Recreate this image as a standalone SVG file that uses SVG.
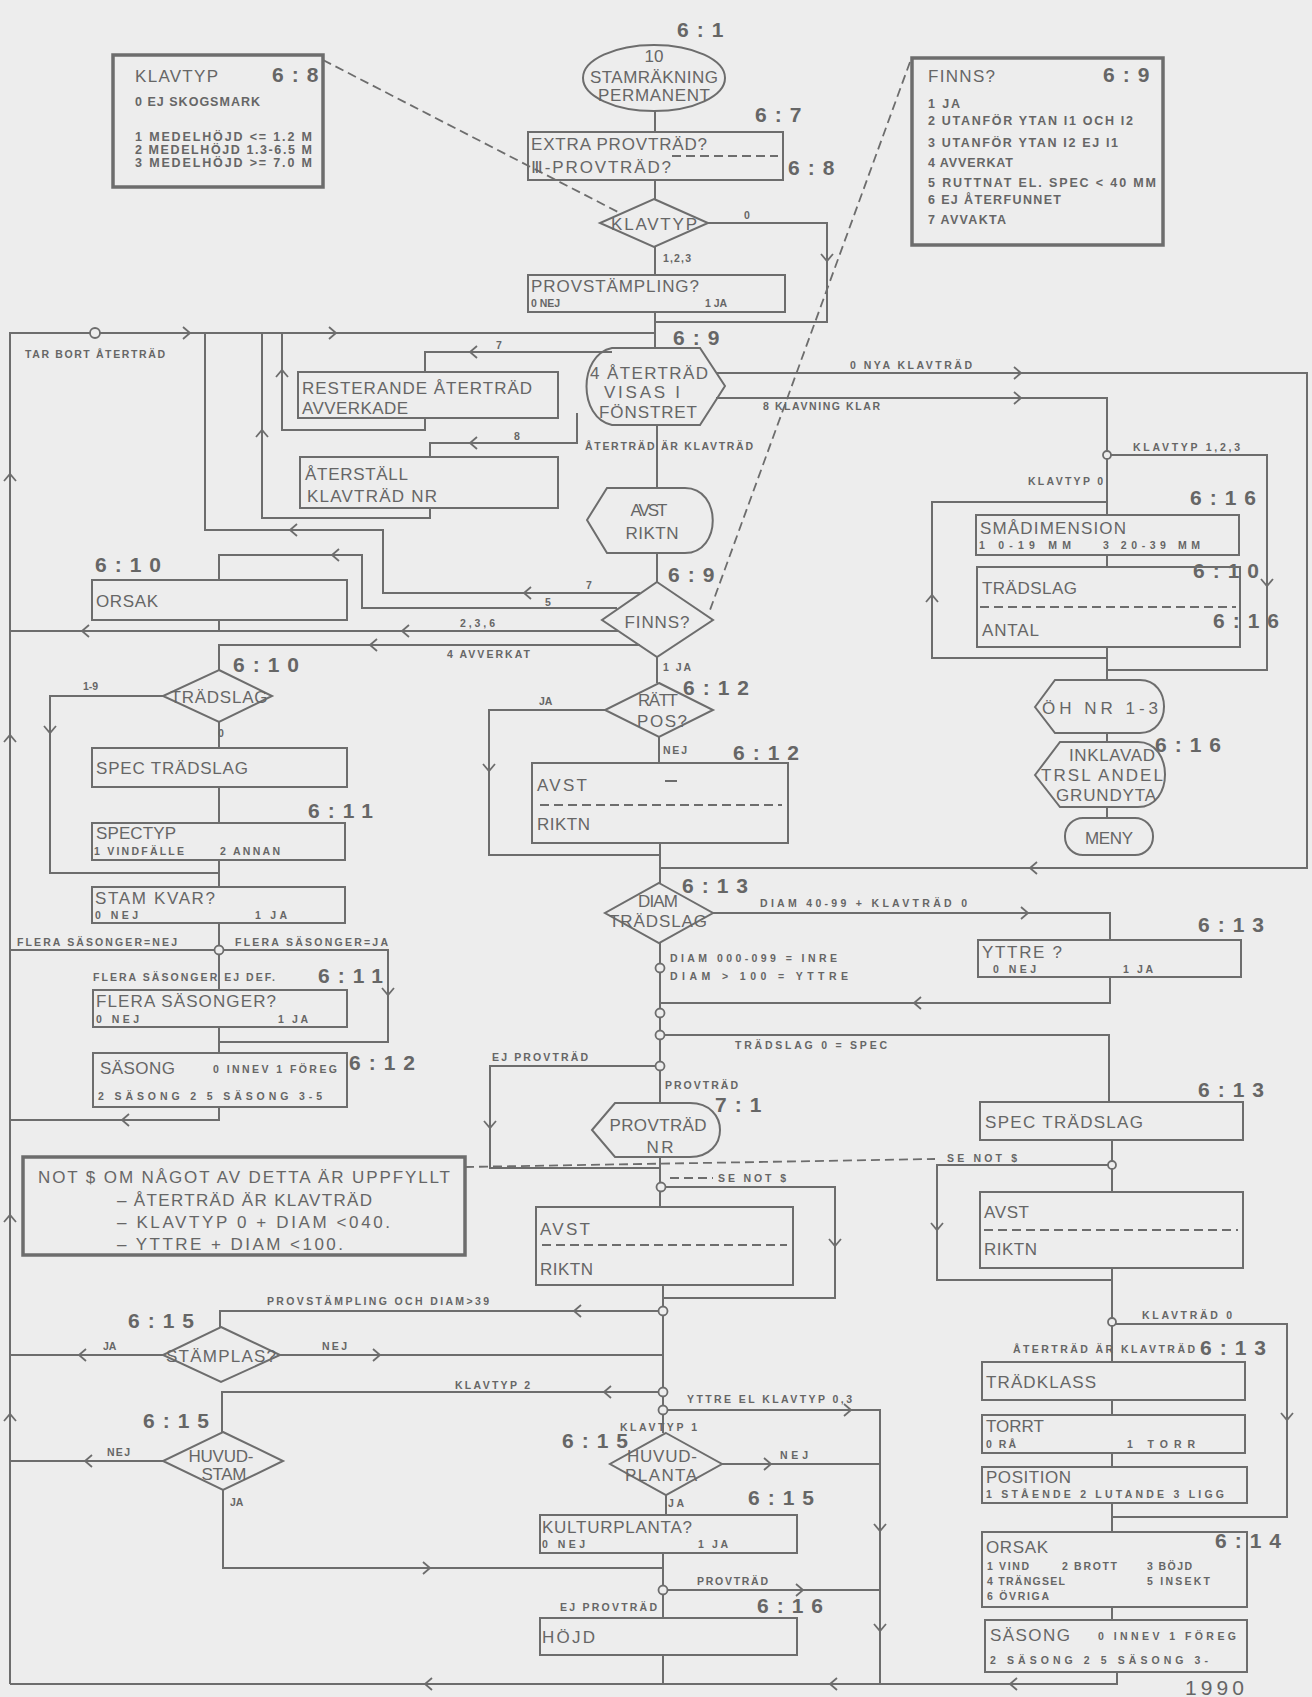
<svg xmlns="http://www.w3.org/2000/svg" width="1312" height="1697" viewBox="0 0 1312 1697">
<style>
.l{fill:none;stroke:#6d6d6d;stroke-width:2}
.b{fill:none;stroke:#6d6d6d;stroke-width:2}
.k{fill:none;stroke:#6d6d6d;stroke-width:3.5}
.d{fill:none;stroke:#6d6d6d;stroke-width:1.8;stroke-dasharray:9 5}
.c{fill:#ededed;stroke:#6d6d6d;stroke-width:1.8}
text{font-family:"Liberation Sans",Arial,sans-serif;fill:#666666}
.t{font-size:17px}
.o{font-size:12.5px;font-weight:bold}
.s{font-size:10.5px;font-weight:bold}
.n{font-size:21px;font-weight:bold;letter-spacing:8px}
.m{text-anchor:middle}
</style>
<defs>
<path id="a" d="M-4,-6 L3,0 L-4,6" fill="none" stroke="#6d6d6d" stroke-width="1.8"/>
</defs>
<rect width="1312" height="1697" fill="#ededed"/>

<g id="connectors">
<path class="l" d="M655,111V132"/>
<path class="l" d="M655,180V199"/>
<path class="l" d="M655,247V275"/>
<path class="l" d="M708,223H827V322H655"/>
<path class="l" d="M655,312V348"/>
<path class="l" d="M10,1684V333H655"/>
<path class="l" d="M612,352H425V372"/>
<path class="l" d="M425,418V430H282V333"/>
<path class="l" d="M577,413V443H430V457"/>
<path class="l" d="M430,508V518H262V333"/>
<path class="l" d="M657,425V488"/>
<path class="l" d="M657,553V582"/>
<path class="l" d="M640,593H383V530H205V333"/>
<path class="l" d="M617,608H362V555H219V580"/>
<path class="l" d="M219,620V631"/>
<path class="l" d="M618,631H10"/>
<path class="l" d="M640,645H219V670"/>
<path class="l" d="M657,657V683"/>
<path class="l" d="M605,710H489V855H660"/>
<path class="l" d="M659,737V763"/>
<path class="l" d="M660,843V883"/>
<path class="l" d="M716,373H1307V868H660"/>
<path class="l" d="M716,398H1107V515"/>
<path class="l" d="M1107,455H1267V670H1107"/>
<path class="l" d="M1107,502H932V658H1107"/>
<path class="l" d="M1107,555V567M1107,647V680M1107,733V742M1107,807V818"/>
<path class="l" d="M713,913H1110V940"/>
<path class="l" d="M1110,977V1003H660"/>
<path class="l" d="M660,943V1103"/>
<path class="l" d="M660,1035H1109V1102"/>
<path class="l" d="M660,1066H490V1168H660"/>
<path class="l" d="M660,1157V1207"/>
<path class="l" d="M660,1187H835V1298H663"/>
<path class="l" d="M663,1285V1433"/>
<path class="l" d="M663,1311H220V1327"/>
<path class="l" d="M163,1355H10"/>
<path class="l" d="M280,1355H663"/>
<path class="l" d="M663,1392H222V1432"/>
<path class="l" d="M163,1461H10"/>
<path class="l" d="M223,1490V1568H663"/>
<path class="l" d="M663,1410H880V1684"/>
<path class="l" d="M722,1464H880"/>
<path class="l" d="M666,1495V1515"/>
<path class="l" d="M663,1553V1618"/>
<path class="l" d="M663,1590H880"/>
<path class="l" d="M663,1655V1684"/>
<path class="l" d="M1117,1672V1684H10"/>
<path class="l" d="M1112,1140V1192"/>
<path class="l" d="M1112,1165H937V1280H1112"/>
<path class="l" d="M1112,1268V1362"/>
<path class="l" d="M1112,1324H1287V1517H1112"/>
<path class="l" d="M1112,1400V1415M1112,1453V1467M1112,1503V1532M1112,1607V1620"/>
<path class="l" d="M163,696H50V873H219"/>
<path class="l" d="M219,722V748M219,787V823M219,860V887M219,923V990"/>
<path class="l" d="M219,950H10"/>
<path class="l" d="M219,950H388V1042H219"/>
<path class="l" d="M219,1027V1053"/>
<path class="l" d="M219,1107V1120H10"/>
<path class="d" d="M323,60L618,212"/>
<path class="d" d="M910,62L710,610"/>
<path class="d" d="M465,1167L935,1159"/>
<path class="d" d="M670,1178H713"/>
<circle class="c" cx="95" cy="333" r="5"/>
<circle class="c" cx="219" cy="950" r="4.5"/>
<circle class="c" cx="660" cy="968" r="4.5"/>
<circle class="c" cx="660" cy="1013" r="4.5"/>
<circle class="c" cx="660" cy="1035" r="4.5"/>
<circle class="c" cx="660" cy="1066" r="4.5"/>
<circle class="c" cx="661" cy="1187" r="4.5"/>
<circle class="c" cx="663" cy="1311" r="4.5"/>
<circle class="c" cx="663" cy="1392" r="4.5"/>
<circle class="c" cx="663" cy="1410" r="4.5"/>
<circle class="c" cx="663" cy="1590" r="4.5"/>
<circle class="c" cx="1107" cy="455" r="4"/>
<circle class="c" cx="1112" cy="1165" r="4"/>
<circle class="c" cx="1112" cy="1322" r="4"/>
<use href="#a" transform="translate(187,333)"/>
<use href="#a" transform="translate(333,333)"/>
<use href="#a" transform="translate(473,352) rotate(180)"/>
<use href="#a" transform="translate(282,373) rotate(-90)"/>
<use href="#a" transform="translate(262,433) rotate(-90)"/>
<use href="#a" transform="translate(473,443) rotate(180)"/>
<use href="#a" transform="translate(827,258) rotate(90)"/>
<use href="#a" transform="translate(293,530) rotate(180)"/>
<use href="#a" transform="translate(335,555) rotate(180)"/>
<use href="#a" transform="translate(527,593) rotate(180)"/>
<use href="#a" transform="translate(85,631) rotate(180)"/>
<use href="#a" transform="translate(405,631) rotate(180)"/>
<use href="#a" transform="translate(373,645) rotate(180)"/>
<use href="#a" transform="translate(10,477) rotate(-90)"/>
<use href="#a" transform="translate(10,738) rotate(-90)"/>
<use href="#a" transform="translate(10,1218) rotate(-90)"/>
<use href="#a" transform="translate(10,1417) rotate(-90)"/>
<use href="#a" transform="translate(50,730) rotate(90)"/>
<use href="#a" transform="translate(388,992) rotate(90)"/>
<use href="#a" transform="translate(125,1120) rotate(180)"/>
<use href="#a" transform="translate(489,768) rotate(90)"/>
<use href="#a" transform="translate(1018,373)"/>
<use href="#a" transform="translate(1018,398)"/>
<use href="#a" transform="translate(1033,868) rotate(180)"/>
<use href="#a" transform="translate(1267,583) rotate(90)"/>
<use href="#a" transform="translate(932,598) rotate(-90)"/>
<use href="#a" transform="translate(1025,913)"/>
<use href="#a" transform="translate(917,1003) rotate(180)"/>
<use href="#a" transform="translate(490,1125) rotate(90)"/>
<use href="#a" transform="translate(835,1243) rotate(90)"/>
<use href="#a" transform="translate(937,1227) rotate(90)"/>
<use href="#a" transform="translate(1287,1417) rotate(90)"/>
<use href="#a" transform="translate(577,1311) rotate(180)"/>
<use href="#a" transform="translate(82,1355) rotate(180)"/>
<use href="#a" transform="translate(377,1355)"/>
<use href="#a" transform="translate(607,1392) rotate(180)"/>
<use href="#a" transform="translate(88,1461) rotate(180)"/>
<use href="#a" transform="translate(427,1568)"/>
<use href="#a" transform="translate(848,1410)"/>
<use href="#a" transform="translate(768,1464)"/>
<use href="#a" transform="translate(800,1590)"/>
<use href="#a" transform="translate(880,1528) rotate(90)"/>
<use href="#a" transform="translate(880,1628) rotate(90)"/>
<use href="#a" transform="translate(428,1684) rotate(180)"/>
<use href="#a" transform="translate(833,1684) rotate(180)"/>
<use href="#a" transform="translate(1013,1684) rotate(180)"/>
<text class="s" x="744" y="219">0</text>
<text class="s" x="663" y="262" textLength="28">1,2,3</text>
<text class="s" x="25" y="358" textLength="140">TAR BORT ÅTERTRÄD</text>
<text class="s" x="496" y="349">7</text>
<text class="s" x="514" y="440">8</text>
<text class="s" x="850" y="369" textLength="122">0 NYA KLAVTRÄD</text>
<text class="s" x="763" y="410" textLength="117">8 KLAVNING KLAR</text>
<text class="s" x="585" y="450" textLength="168">ÅTERTRÄD ÄR KLAVTRÄD</text>
<text class="s" x="586" y="589">7</text>
<text class="s" x="545" y="606">5</text>
<text class="s" x="460" y="627" textLength="35">2,3,6</text>
<text class="s" x="447" y="658" textLength="83">4 AVVERKAT</text>
<text class="s" x="663" y="671" textLength="28">1 JA</text>
<text class="s" x="539" y="705">JA</text>
<text class="s" x="663" y="754" textLength="24">NEJ</text>
<text class="s" x="83" y="690">1-9</text>
<text class="s" x="218" y="737">0</text>
<text class="s" x="17" y="946" textLength="160">FLERA SÄSONGER=NEJ</text>
<text class="s" x="235" y="946" textLength="153">FLERA SÄSONGER=JA</text>
<text class="s" x="93" y="981" textLength="182">FLERA SÄSONGER EJ DEF.</text>
<text class="s" x="1133" y="451" textLength="107">KLAVTYP 1,2,3</text>
<text class="s" x="1028" y="485" textLength="75">KLAVTYP 0</text>
<text class="s" x="760" y="907" textLength="207">DIAM 40-99 + KLAVTRÄD 0</text>
<text class="s" x="670" y="962" textLength="167">DIAM 000-099 = INRE</text>
<text class="s" x="670" y="980" textLength="178">DIAM &gt; 100     = YTTRE</text>
<text class="s" x="735" y="1049" textLength="152">TRÄDSLAG 0 = SPEC</text>
<text class="s" x="492" y="1061" textLength="96">EJ PROVTRÄD</text>
<text class="s" x="665" y="1089" textLength="73">PROVTRÄD</text>
<text class="s" x="718" y="1182" textLength="68">SE NOT $</text>
<text class="s" x="947" y="1162" textLength="70">SE NOT $</text>
<text class="s" x="1142" y="1319" textLength="90">KLAVTRÄD 0</text>
<text class="s" x="1013" y="1353" textLength="182">ÅTERTRÄD ÄR KLAVTRÄD</text>
<text class="s" x="267" y="1305" textLength="222">PROVSTÄMPLING OCH DIAM&gt;39</text>
<text class="s" x="103" y="1350">JA</text>
<text class="s" x="322" y="1350" textLength="25">NEJ</text>
<text class="s" x="455" y="1389" textLength="75">KLAVTYP 2</text>
<text class="s" x="107" y="1456" textLength="23">NEJ</text>
<text class="s" x="230" y="1506">JA</text>
<text class="s" x="687" y="1403" textLength="165">YTTRE EL KLAVTYP 0,3</text>
<text class="s" x="620" y="1431" textLength="77">KLAVTYP 1</text>
<text class="s" x="780" y="1459" textLength="28">NEJ</text>
<text class="s" x="668" y="1507" textLength="16">JA</text>
<text class="s" x="697" y="1585" textLength="71">PROVTRÄD</text>
<text class="s" x="560" y="1611" textLength="97">EJ PROVTRÄD</text>
</g>

<g id="n-start">
<text class="n" x="677" y="37">6:1</text>
<ellipse class="b" cx="654" cy="78" rx="71" ry="33"/>
<text class="t m" x="654" y="62">10</text>
<text class="t m" x="654" y="83" textLength="128">STAMRÄKNING</text>
<text class="t m" x="654" y="101" textLength="112">PERMANENT</text>
</g>

<g id="n-extra">
<text class="n" x="755" y="122">6:7</text>
<rect class="b" x="528" y="132" width="255" height="48"/>
<path class="d" d="M672,156H778"/>
<text class="t" x="531" y="150" textLength="176">EXTRA PROVTRÄD?</text>
<text class="t" x="531" y="173" textLength="140">Ⅲ-PROVTRÄD?</text>
<text class="n" x="788" y="175">6:8</text>
</g>

<g id="n-klavtyp">
<path class="b" d="M654,199L708,223L654,247L600,223Z"/>
<text class="t m" x="654" y="230" textLength="86">KLAVTYP</text>
</g>

<g id="n-provst">
<rect class="b" x="528" y="275" width="257" height="37"/>
<text class="t" x="531" y="292" textLength="168">PROVSTÄMPLING?</text>
<text class="s" x="531" y="307">0 NEJ</text>
<text class="s" x="705" y="307">1 JA</text>
</g>

<g id="n-klavtyp-info">
<rect class="k" x="113" y="55" width="210" height="132"/>
<text class="t" x="135" y="82" textLength="83">KLAVTYP</text>
<text class="n" x="272" y="82">6:8</text>
<text class="o" x="135" y="106" textLength="125">0 EJ SKOGSMARK</text>
<text class="o" x="135" y="141" textLength="177">1 MEDELHÖJD &lt;= 1.2 M</text>
<text class="o" x="135" y="154" textLength="177">2 MEDELHÖJD 1.3-6.5 M</text>
<text class="o" x="135" y="167" textLength="177">3 MEDELHÖJD &gt;= 7.0 M</text>
</g>

<g id="n-finns-info">
<rect class="k" x="912" y="58" width="251" height="187"/>
<text class="t" x="928" y="82" textLength="67">FINNS?</text>
<text class="n" x="1103" y="82">6:9</text>
<text class="o" x="928" y="108" textLength="32">1 JA</text>
<text class="o" x="928" y="125" textLength="205">2 UTANFÖR YTAN I1 OCH I2</text>
<text class="o" x="928" y="147" textLength="190">3 UTANFÖR YTAN I2 EJ I1</text>
<text class="o" x="928" y="167" textLength="85">4 AVVERKAT</text>
<text class="o" x="928" y="187" textLength="228">5 RUTTNAT EL. SPEC &lt; 40 MM</text>
<text class="o" x="928" y="204" textLength="133">6 EJ ÅTERFUNNET</text>
<text class="o" x="928" y="224" textLength="78">7 AVVAKTA</text>
</g>

<g id="n-atertrad">
<text class="n" x="673" y="345">6:9</text>
<path class="b" d="M612,348L700,348L725,386L700,425L612,425C578,418 578,355 612,348Z"/>
<text class="t m" x="649" y="379" textLength="118">4 ÅTERTRÄD</text>
<text class="t m" x="642" y="398" textLength="76">VISAS I</text>
<text class="t m" x="648" y="418" textLength="98">FÖNSTRET</text>
</g>

<g id="n-resterande">
<rect class="b" x="298" y="372" width="260" height="46"/>
<text class="t" x="302" y="394" textLength="230">RESTERANDE ÅTERTRÄD</text>
<text class="t" x="302" y="414" textLength="106">AVVERKADE</text>
</g>

<g id="n-aterstall">
<rect class="b" x="300" y="457" width="258" height="51"/>
<text class="t" x="305" y="480" textLength="103">ÅTERSTÄLL</text>
<text class="t" x="307" y="502" textLength="130">KLAVTRÄD NR</text>
</g>

<g id="n-avst1">
<path class="b" d="M587,520L607,488L685,488C722,488 722,553 685,553L607,553Z"/>
<text class="t m" x="649" y="516" textLength="37">AVST</text>
<text class="t m" x="652" y="539" textLength="53">RIKTN</text>
</g>

<g id="n-finns">
<text class="n" x="668" y="582">6:9</text>
<path class="b" d="M657,582L713,620L657,657L602,620Z"/>
<text class="t m" x="657" y="628" textLength="65">FINNS?</text>
</g>

<g id="n-orsak1">
<text class="n" x="95" y="572">6:10</text>
<rect class="b" x="92" y="580" width="255" height="40"/>
<text class="t" x="96" y="607" textLength="62">ORSAK</text>
</g>

<g id="n-ratt">
<text class="n" x="683" y="695">6:12</text>
<path class="b" d="M659,683L713,710L659,737L605,710Z"/>
<text class="t m" x="658" y="706" textLength="40">RÄTT</text>
<text class="t m" x="662" y="727" textLength="50">POS?</text>
</g>

<g id="n-avst2">
<text class="n" x="733" y="760">6:12</text>
<rect class="b" x="532" y="763" width="256" height="80"/>
<path class="d" d="M540,805H782"/>
<path class="l" d="M665,781H677"/>
<text class="t" x="537" y="791" textLength="50">AVST</text>
<text class="t" x="537" y="830" textLength="53">RIKTN</text>
</g>

<g id="n-tradslag1">
<text class="n" x="233" y="672">6:10</text>
<path class="b" d="M219,670L272,696L219,722L163,696Z"/>
<text class="t m" x="219" y="703" textLength="97">TRÄDSLAG</text>
</g>

<g id="n-spec1">
<rect class="b" x="92" y="748" width="255" height="39"/>
<text class="t" x="96" y="774" textLength="152">SPEC TRÄDSLAG</text>
</g>

<g id="n-spectyp">
<text class="n" x="308" y="818">6:11</text>
<rect class="b" x="92" y="823" width="253" height="37"/>
<text class="t" x="96" y="839" textLength="80">SPECTYP</text>
<text class="s" x="94" y="855" textLength="90">1 VINDFÄLLE</text>
<text class="s" x="220" y="855" textLength="60">2 ANNAN</text>
</g>

<g id="n-stamkvar">
<rect class="b" x="92" y="887" width="253" height="36"/>
<text class="t" x="95" y="904" textLength="120">STAM KVAR?</text>
<text class="s" x="95" y="919" textLength="43">0 NEJ</text>
<text class="s" x="255" y="919" textLength="32">1 JA</text>
</g>

<g id="n-flera">
<text class="n" x="318" y="983">6:11</text>
<rect class="b" x="93" y="990" width="254" height="37"/>
<text class="t" x="96" y="1007" textLength="180">FLERA SÄSONGER?</text>
<text class="s" x="96" y="1023" textLength="43">0 NEJ</text>
<text class="s" x="278" y="1023" textLength="30">1 JA</text>
</g>

<g id="n-sasong1">
<text class="n" x="349" y="1070">6:12</text>
<rect class="b" x="93" y="1053" width="254" height="54"/>
<text class="t" x="100" y="1074" textLength="75">SÄSONG</text>
<text class="s" x="213" y="1073" textLength="124">0 INNEV  1 FÖREG</text>
<text class="s" x="98" y="1100" textLength="224">2 SÄSONG 2   5 SÄSONG 3-5</text>
</g>

<g id="n-not">
<rect class="k" x="23" y="1157" width="442" height="98"/>
<text class="t" x="38" y="1183" textLength="412">NOT $ OM NÅGOT AV DETTA ÄR UPPFYLLT</text>
<text class="t" x="117" y="1206" textLength="255">– ÅTERTRÄD ÄR KLAVTRÄD</text>
<text class="t" x="117" y="1228" textLength="273">– KLAVTYP 0 + DIAM &lt;040.</text>
<text class="t" x="117" y="1250" textLength="226">– YTTRE + DIAM &lt;100.</text>
</g>

<g id="n-smadim">
<text class="n" x="1190" y="505">6:16</text>
<rect class="b" x="976" y="515" width="263" height="40"/>
<text class="t" x="980" y="534" textLength="146">SMÅDIMENSION</text>
<text class="s" x="979" y="549" textLength="92">1 0-19 MM</text>
<text class="s" x="1103" y="549" textLength="97">3 20-39 MM</text>
</g>

<g id="n-tradslag2">
<text class="n" x="1193" y="578">6:10</text>
<rect class="b" x="977" y="567" width="263" height="80"/>
<path class="d" d="M980,607H1236"/>
<text class="t" x="982" y="594" textLength="95">TRÄDSLAG</text>
<text class="t" x="982" y="636" textLength="57">ANTAL</text>
<text class="n" x="1213" y="628">6:16</text>
</g>

<g id="n-ohnr">
<path class="b" d="M1035,707L1055,680L1140,680C1172,680 1172,733 1140,733L1055,733Z"/>
<text class="t m" x="1100" y="714" textLength="116">ÖH NR 1-3</text>
</g>

<g id="n-inklavad">
<text class="n" x="1155" y="752">6:16</text>
<path class="b" d="M1035,775L1060,742L1138,742C1174,742 1174,807 1138,807L1060,807Z"/>
<text class="t m" x="1112" y="761" textLength="86">INKLAVAD</text>
<text class="t m" x="1102" y="781" textLength="122">TRSL ANDEL</text>
<text class="t m" x="1106" y="801" textLength="100">GRUNDYTA</text>
</g>

<g id="n-meny">
<rect class="b" x="1065" y="818" width="88" height="37" rx="18"/>
<text class="t m" x="1109" y="844" textLength="48">MENY</text>
</g>

<g id="n-diam">
<text class="n" x="682" y="893">6:13</text>
<path class="b" d="M659,883L713,913L659,943L605,913Z"/>
<text class="t m" x="658" y="907" textLength="40">DIAM</text>
<text class="t m" x="658" y="927" textLength="98">TRÄDSLAG</text>
</g>

<g id="n-yttre">
<text class="n" x="1198" y="932">6:13</text>
<rect class="b" x="978" y="940" width="263" height="37"/>
<text class="t" x="982" y="958" textLength="80">YTTRE ?</text>
<text class="s" x="993" y="973" textLength="43">0 NEJ</text>
<text class="s" x="1123" y="973" textLength="30">1 JA</text>
</g>

<g id="n-provtradnr">
<text class="n" x="715" y="1112">7:1</text>
<path class="b" d="M592,1130L615,1103L690,1103C730,1103 730,1157 690,1157L615,1157Z"/>
<text class="t m" x="658" y="1131" textLength="97">PROVTRÄD</text>
<text class="t m" x="660" y="1153" textLength="27">NR</text>
</g>

<g id="n-spec2">
<text class="n" x="1198" y="1097">6:13</text>
<rect class="b" x="980" y="1102" width="263" height="38"/>
<text class="t" x="985" y="1128" textLength="158">SPEC TRÄDSLAG</text>
</g>

<g id="n-avst3">
<rect class="b" x="536" y="1207" width="257" height="78"/>
<path class="d" d="M542,1245H787"/>
<text class="t" x="540" y="1235" textLength="50">AVST</text>
<text class="t" x="540" y="1275" textLength="53">RIKTN</text>
</g>

<g id="n-avst4">
<rect class="b" x="980" y="1192" width="263" height="76"/>
<path class="d" d="M984,1230H1238"/>
<text class="t" x="984" y="1218" textLength="45">AVST</text>
<text class="t" x="984" y="1255" textLength="53">RIKTN</text>
</g>

<g id="n-tradklass">
<text class="n" x="1200" y="1355">6:13</text>
<rect class="b" x="982" y="1362" width="263" height="38"/>
<text class="t" x="986" y="1388" textLength="110">TRÄDKLASS</text>
</g>

<g id="n-torrt">
<rect class="b" x="982" y="1415" width="263" height="38"/>
<text class="t" x="986" y="1432" textLength="58">TORRT</text>
<text class="s" x="986" y="1448" textLength="30">0 RÅ</text>
<text class="s" x="1127" y="1448" textLength="68">1 TORR</text>
</g>

<g id="n-position">
<rect class="b" x="982" y="1467" width="265" height="36"/>
<text class="t" x="986" y="1483" textLength="85">POSITION</text>
<text class="s" x="986" y="1498" textLength="238">1 STÅENDE  2 LUTANDE  3 LIGG</text>
</g>

<g id="n-orsak2">
<rect class="b" x="982" y="1532" width="265" height="75"/>
<text class="n" x="1215" y="1548">6:14</text>
<text class="t" x="986" y="1553" textLength="62">ORSAK</text>
<text class="s" x="987" y="1570" textLength="42">1 VIND</text>
<text class="s" x="1062" y="1570" textLength="55">2 BROTT</text>
<text class="s" x="1147" y="1570" textLength="45">3 BÖJD</text>
<text class="s" x="987" y="1585" textLength="78">4 TRÄNGSEL</text>
<text class="s" x="1147" y="1585" textLength="63">5 INSEKT</text>
<text class="s" x="987" y="1600" textLength="62">6 ÖVRIGA</text>
</g>

<g id="n-sasong2">
<rect class="b" x="985" y="1620" width="262" height="52"/>
<text class="t" x="990" y="1641" textLength="80">SÄSONG</text>
<text class="s" x="1098" y="1640" textLength="138">0 INNEV   1 FÖREG</text>
<text class="s" x="990" y="1664" textLength="218">2 SÄSONG 2    5 SÄSONG 3-</text>
</g>

<g id="n-stamplas">
<text class="n" x="128" y="1328">6:15</text>
<path class="b" d="M221,1327L280,1355L221,1382L163,1355Z"/>
<text class="t m" x="221" y="1362" textLength="110">STÄMPLAS?</text>
</g>

<g id="n-huvudstam">
<text class="n" x="143" y="1428">6:15</text>
<path class="b" d="M223,1432L283,1461L223,1490L163,1461Z"/>
<text class="t m" x="221" y="1462" textLength="65">HUVUD-</text>
<text class="t m" x="224" y="1480" textLength="45">STAM</text>
</g>

<g id="n-huvudplanta">
<text class="n" x="562" y="1448">6:15</text>
<path class="b" d="M666,1433L722,1464L666,1495L610,1464Z"/>
<text class="t m" x="662" y="1462" textLength="70">HUVUD-</text>
<text class="t m" x="661" y="1481" textLength="72">PLANTA</text>
</g>

<g id="n-kultur">
<text class="n" x="748" y="1505">6:15</text>
<rect class="b" x="540" y="1515" width="257" height="38"/>
<text class="t" x="542" y="1533" textLength="150">KULTURPLANTA?</text>
<text class="s" x="542" y="1548" textLength="43">0 NEJ</text>
<text class="s" x="698" y="1548" textLength="30">1 JA</text>
</g>

<g id="n-hojd">
<text class="n" x="757" y="1613">6:16</text>
<rect class="b" x="540" y="1618" width="257" height="37"/>
<text class="t" x="542" y="1643" textLength="53">HÖJD</text>
</g>

<text x="1185" y="1695" font-size="21" letter-spacing="3" textLength="62">1990</text>
</svg>
